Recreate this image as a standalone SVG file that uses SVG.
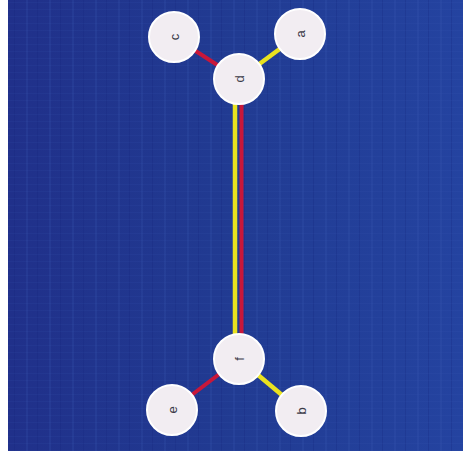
<svg xmlns="http://www.w3.org/2000/svg" width="469" height="451" viewBox="0 0 469 451">
  <defs>
    <linearGradient id="bg" x1="0" y1="0" x2="1" y2="0">
      <stop offset="0" stop-color="#20308a"/>
      <stop offset="0.5" stop-color="#213b92"/>
      <stop offset="1" stop-color="#2443a0"/>
    </linearGradient>
    <pattern id="streaks" width="23" height="451" patternUnits="userSpaceOnUse">
      <rect x="3" y="0" width="2" height="451" fill="#3b5fb8" opacity="0.18"/>
      <rect x="14" y="0" width="1" height="451" fill="#15257a" opacity="0.25"/>
    </pattern>
    <pattern id="hlines" width="469" height="7" patternUnits="userSpaceOnUse">
      <rect x="0" y="2" width="469" height="1" fill="#3a5ab5" opacity="0.12"/>
    </pattern>
    <filter id="glow" x="-30%" y="-30%" width="160%" height="160%">
      <feGaussianBlur stdDeviation="1.2"/>
    </filter>
  </defs>
  <style>
    .node circle { fill: #f2edf2; stroke: #ffffff; stroke-width: 2; }
    .node text { font-family: "Liberation Sans", Arial, sans-serif; font-size: 13px; fill: #3a3a48; text-anchor: middle; dominant-baseline: central; }
    .red { stroke: #c8173a; stroke-width: 4; }
    .yel { stroke: #e9e21f; stroke-width: 4.5; }
  </style>
  <rect x="0" y="0" width="469" height="451" fill="#ffffff"/>
  <rect x="8" y="0" width="455" height="451" fill="url(#bg)"/>
  <rect x="8" y="0" width="455" height="451" fill="url(#streaks)"/>
  <rect x="8" y="0" width="455" height="451" fill="url(#hlines)"/>
  <g id="connectors">
    <line class="red" x1="174" y1="37" x2="239" y2="79"/>
    <line class="yel" x1="300" y1="34" x2="239" y2="79"/>
    <line class="yel" x1="235" y1="79" x2="235" y2="359"/>
    <line class="red" x1="241.5" y1="79" x2="241.5" y2="359"/>
    <line class="red" x1="239" y1="359" x2="172" y2="410"/>
    <line class="yel" x1="239" y1="359" x2="301" y2="411"/>
  </g>
  <g id="node-c" class="node"><circle cx="174" cy="37" r="25"/><text transform="translate(174,37) rotate(-90)">c</text></g>
  <g id="node-a" class="node"><circle cx="300" cy="34" r="25"/><text transform="translate(300,34) rotate(-90)">a</text></g>
  <g id="node-d" class="node"><circle cx="239" cy="79" r="25"/><text transform="translate(239,79) rotate(-90)">d</text></g>
  <g id="node-f" class="node"><circle cx="239" cy="359" r="25"/><text transform="translate(239,359) rotate(-90)">f</text></g>
  <g id="node-e" class="node"><circle cx="172" cy="410" r="25"/><text transform="translate(172,410) rotate(-90)">e</text></g>
  <g id="node-b" class="node"><circle cx="301" cy="411" r="25"/><text transform="translate(301,411) rotate(-90)">b</text></g>
</svg>
